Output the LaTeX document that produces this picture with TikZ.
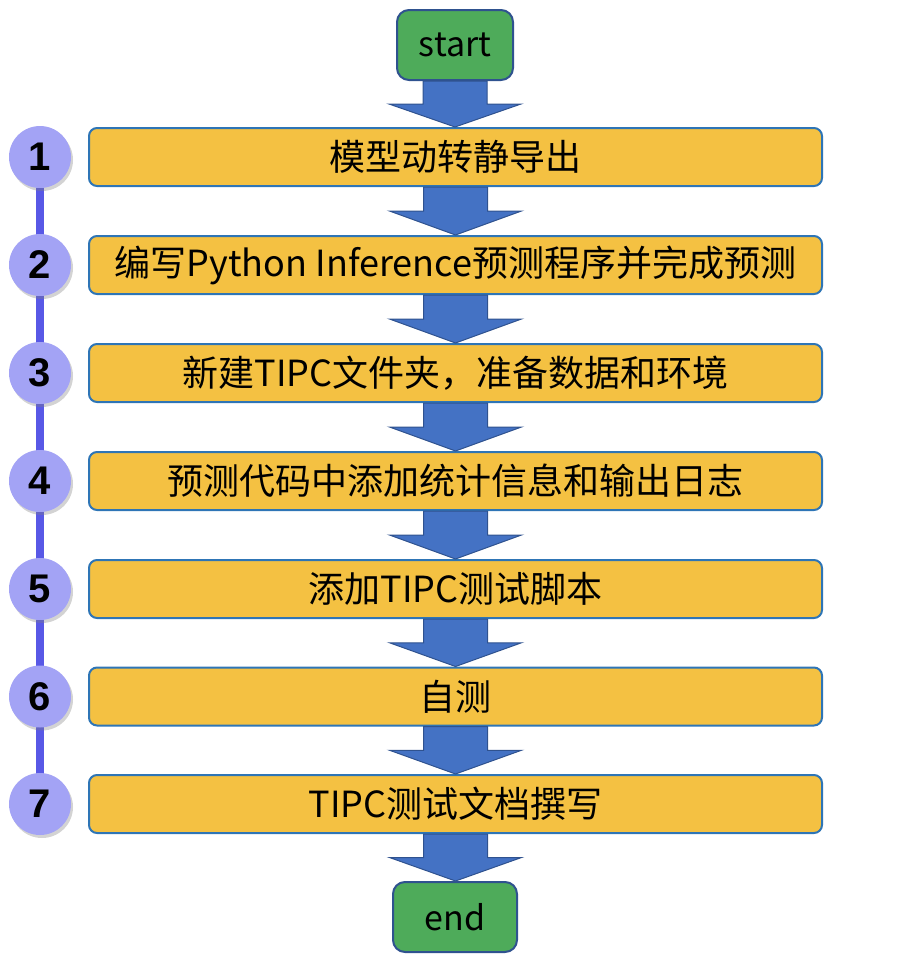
\documentclass[tikz,border=0pt]{standalone}
\usepackage{fontspec}
\setmainfont{Noto Sans CJK SC}
\newfontfamily\numfont{Liberation Sans}
\usetikzlibrary{calc,shadows}
\definecolor{boxfill}{HTML}{F4C142}
\definecolor{boxline}{HTML}{2E75B6}
\definecolor{termfill}{HTML}{4EAB5A}
\definecolor{termline}{HTML}{2F528F}
\definecolor{arrfill}{HTML}{4472C4}
\definecolor{arrline}{HTML}{2F528F}
\definecolor{circfill}{HTML}{A3A3F5}
\definecolor{rail}{HTML}{5858E6}
\tikzset{
  stepbox/.style={draw=boxline, line width=2pt, fill=boxfill, rounded corners=8pt,
    minimum width=733pt, minimum height=58pt, inner sep=0pt,
    font=\fontsize{36}{40}\selectfont},
  termbox/.style={draw=termline, line width=2pt, fill=termfill, rounded corners=12pt,
    minimum height=70pt, inner sep=0pt, font=\fontsize{34}{38}\selectfont},
  numcirc/.style={circle, fill=circfill, minimum size=62pt, inner sep=0pt,
    drop shadow={shadow xshift=2pt, shadow yshift=-3pt, opacity=0.35},
    font=\numfont\bfseries\fontsize{40}{44}\selectfont},
  arrowstyle/.style={fill=arrfill, draw=arrline, line width=1pt, line join=miter},
}
\newcommand\bigarrow[2]{%
  \path let \p1=(#1.south), \p2=(#2.north) in [arrowstyle]
    (\x1-32pt,\y1) -- (\x1+32pt,\y1) -- (\x1+32pt,{(\y1+\y2)/2}) --
    (\x1+66pt,{(\y1+\y2)/2}) -- (\x1,\y2) -- (\x1-66pt,{(\y1+\y2)/2}) --
    (\x1-32pt,{(\y1+\y2)/2}) -- cycle;}
\begin{document}
\begin{tikzpicture}[x=1pt,y=-1pt]
\useasboundingbox (0,0) rectangle (912,964);
\node[termbox, minimum width=116pt] (start) at (455,45) {start};
\node[stepbox] (s1) at (455.5,157) {模型动转静导出};
\node[stepbox] (s2) at (455.5,265) {编写Python Inference预测程序并完成预测};
\node[stepbox] (s3) at (455.5,373) {新建TIPC文件夹，准备数据和环境};
\node[stepbox] (s4) at (455.5,481) {预测代码中添加统计信息和输出日志};
\node[stepbox] (s5) at (455.5,589) {添加TIPC测试脚本};
\node[stepbox] (s6) at (455.5,696.5) {自测};
\node[stepbox] (s7) at (455.5,804) {TIPC测试文档撰写};
\node[termbox, minimum width=124pt] (end) at (455,917) {end};
\bigarrow{start}{s1}
\bigarrow{s1}{s2}
\bigarrow{s2}{s3}
\bigarrow{s3}{s4}
\bigarrow{s4}{s5}
\bigarrow{s5}{s6}
\bigarrow{s6}{s7}
\bigarrow{s7}{end}
\coordinate (r1) at (40,157);
\coordinate (r7) at (40,804);
\draw[rail, line width=8pt] (r1) -- (r7);
\node[numcirc] (c1) at (40,157) {1};
\node[numcirc] (c2) at (40,265) {2};
\node[numcirc] (c3) at (40,373) {3};
\node[numcirc] (c4) at (40,481) {4};
\node[numcirc] (c5) at (40,589) {5};
\node[numcirc] (c6) at (40,696.5) {6};
\node[numcirc] (c7) at (40,804) {7};
\end{tikzpicture}
\end{document}
